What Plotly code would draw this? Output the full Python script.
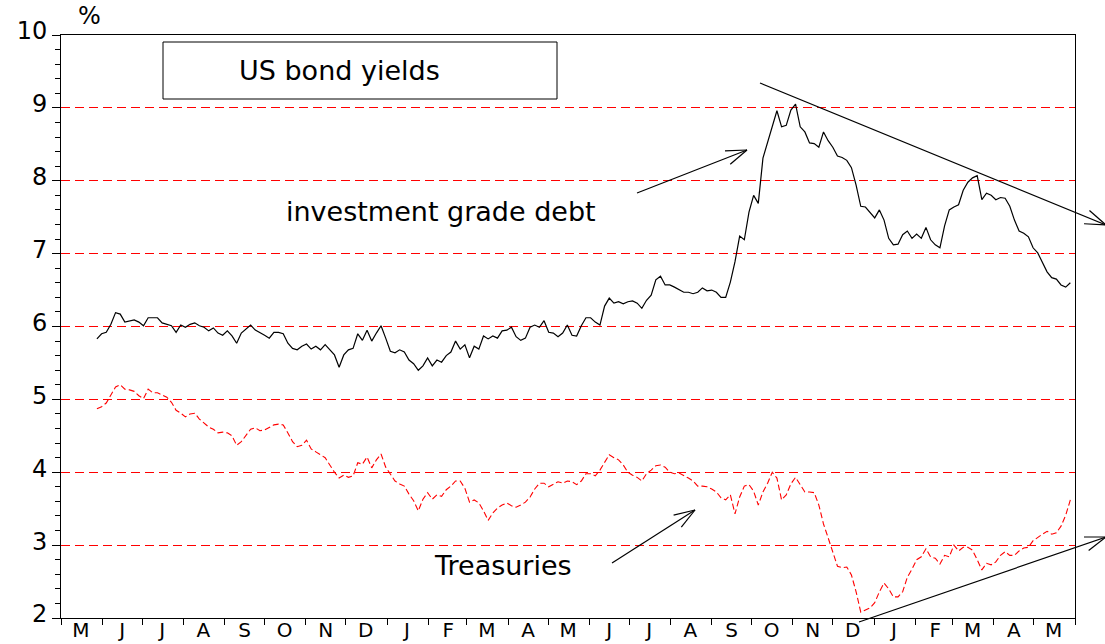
import math
import pandas as pd
import plotly.graph_objects as go

# ---------------- data ----------------
dates = pd.date_range("2007-05-28", periods=210, freq="84h")

investment_grade = [
    5.83, 5.90, 5.92, 6.03, 6.19, 6.17, 6.06, 6.08, 6.09, 6.06,
    6.01, 6.12, 6.12, 6.12, 6.05, 6.03, 6.01, 5.92, 6.02, 5.99,
    6.03, 6.05, 6.01, 5.99, 5.94, 5.98, 5.91, 5.88, 5.94, 5.87,
    5.77, 5.91, 5.97, 6.02, 5.95, 5.92, 5.88, 5.84, 5.92, 5.92,
    5.90, 5.77, 5.70, 5.68, 5.73, 5.76, 5.69, 5.73, 5.68, 5.75,
    5.68, 5.61, 5.44, 5.61, 5.68, 5.70, 5.90, 5.81, 5.95, 5.80,
    5.91, 6.01, 5.84, 5.66, 5.64, 5.68, 5.65, 5.54, 5.49, 5.40,
    5.46, 5.57, 5.46, 5.54, 5.51, 5.60, 5.65, 5.80, 5.69, 5.75,
    5.57, 5.73, 5.69, 5.87, 5.83, 5.87, 5.84, 5.94, 5.95, 5.99,
    5.86, 5.81, 5.84, 5.99, 6.02, 5.99, 6.08, 5.92, 5.91, 5.86,
    5.91, 6.02, 5.88, 5.87, 6.01, 6.12, 6.12, 6.06, 6.02, 6.28,
    6.39, 6.32, 6.34, 6.31, 6.34, 6.35, 6.32, 6.25, 6.36, 6.43,
    6.64, 6.69, 6.57, 6.57, 6.54, 6.51, 6.47, 6.47, 6.45, 6.47,
    6.53, 6.49, 6.50, 6.47, 6.40, 6.40, 6.61, 6.89, 7.24, 7.19,
    7.57, 7.80, 7.69, 8.31, 8.52, 8.74, 8.96, 8.74, 8.76, 8.97,
    9.05, 8.74, 8.67, 8.52, 8.51, 8.46, 8.67, 8.55, 8.46, 8.34,
    8.32, 8.28, 8.18, 7.94, 7.65, 7.64, 7.57, 7.49, 7.60, 7.46,
    7.21, 7.12, 7.13, 7.26, 7.31, 7.21, 7.27, 7.21, 7.36, 7.19,
    7.12, 7.08, 7.38, 7.60, 7.64, 7.67, 7.87, 7.98, 8.04, 8.07,
    7.74, 7.83, 7.80, 7.74, 7.77, 7.76, 7.65, 7.46, 7.31, 7.28,
    7.23, 7.08, 7.01, 6.87, 6.75, 6.67, 6.65, 6.57, 6.54, 6.60,
]

treasuries = [
    4.87, 4.90, 4.95, 5.07, 5.17, 5.20, 5.14, 5.13, 5.11, 5.05,
    5.01, 5.14, 5.09, 5.09, 5.06, 5.03, 4.96, 4.85, 4.81, 4.76,
    4.80, 4.81, 4.73, 4.68, 4.62, 4.59, 4.54, 4.55, 4.54, 4.50,
    4.37, 4.42, 4.50, 4.59, 4.61, 4.57, 4.58, 4.62, 4.65, 4.66,
    4.65, 4.54, 4.42, 4.35, 4.37, 4.44, 4.32, 4.28, 4.24, 4.20,
    4.10, 4.00, 3.92, 3.96, 3.93, 3.95, 4.13, 4.11, 4.21, 4.06,
    4.17, 4.25, 4.07, 3.98, 3.88, 3.84, 3.81, 3.70, 3.61, 3.47,
    3.63, 3.72, 3.63, 3.69, 3.67, 3.76, 3.81, 3.88, 3.88, 3.78,
    3.59, 3.62, 3.58, 3.47, 3.34, 3.44, 3.51, 3.55, 3.58, 3.54,
    3.52, 3.55, 3.59, 3.66, 3.77, 3.85, 3.85, 3.80, 3.83, 3.87,
    3.85, 3.88, 3.87, 3.83, 3.88, 3.98, 3.98, 3.95, 4.03, 4.14,
    4.24, 4.20, 4.17, 4.10, 4.00, 3.96, 3.93, 3.88, 3.98, 4.03,
    4.09, 4.10, 4.07, 4.00, 3.98, 3.99, 3.96, 3.92, 3.88, 3.81,
    3.81, 3.80, 3.77, 3.73, 3.65, 3.62, 3.69, 3.43, 3.66, 3.81,
    3.83, 3.74, 3.55, 3.73, 3.85, 4.00, 3.92, 3.62, 3.69, 3.84,
    3.93, 3.83, 3.73, 3.73, 3.72, 3.55, 3.29, 3.10, 2.92, 2.71,
    2.69, 2.70, 2.59, 2.36, 2.08, 2.11, 2.14, 2.21, 2.36, 2.48,
    2.40, 2.29, 2.29, 2.36, 2.56, 2.67, 2.80, 2.84, 2.95, 2.84,
    2.82, 2.74, 2.86, 2.84, 3.00, 2.92, 2.97, 2.97, 2.93, 2.80,
    2.66, 2.75, 2.73, 2.77, 2.86, 2.91, 2.86, 2.86, 2.92, 2.96,
    2.97, 3.06, 3.11, 3.15, 3.19, 3.15, 3.17, 3.26, 3.41, 3.62,
]

month_letters = ["M", "J", "J", "A", "S", "O", "N", "D", "J", "F", "M", "A",
                 "M", "J", "J", "A", "S", "O", "N", "D", "J", "F", "M", "A", "M"]
y_ticks = [2, 3, 4, 5, 6, 7, 8, 9, 10]

month_starts = pd.date_range("2007-05-01", "2009-06-01", freq="MS")
month_mids = month_starts[:-1] + pd.Timedelta(days=15)
y_minor = [round(v + k * 0.2, 1) for v in y_ticks[:-1] for k in range(1, 5)]

# ---------------- layout geometry ----------------
W, H = 1105, 644
L, R, T, B = 61, 30, 35, 26
PW, PH = W - L - R, H - T - B
FONT = "DejaVu Sans"


def paper(px, py):
    return (px - L) / PW, (H - B - py) / PH


fig = go.Figure()
fig.add_trace(go.Scatter(x=dates, y=investment_grade, mode="lines",
                         line=dict(color="black", width=1.2),
                         name="investment grade debt"))
fig.add_trace(go.Scatter(x=dates, y=treasuries, mode="lines",
                         line=dict(color="red", width=1.1, dash="6px,3px"),
                         name="Treasuries"))

fig.update_layout(
    width=W, height=H,
    margin=dict(l=L, r=R, t=T, b=B, autoexpand=False),
    paper_bgcolor="white", plot_bgcolor="white",
    showlegend=False,
    font=dict(family=FONT, size=24, color="black"),
)

fig.update_xaxes(
    range=[month_starts[0], month_starts[-1]],
    automargin=False,
    tickmode="array", tickvals=month_mids, ticktext=month_letters,
    ticks="", showgrid=False, zeroline=False,
    showline=True, linecolor="black", linewidth=1, mirror=True,
    tickfont=dict(family=FONT, size=20, color="black"),
    ticklabelstandoff=-6,
    minor=dict(tickmode="array", tickvals=month_starts, ticks="outside",
               ticklen=6, tickwidth=1, tickcolor="black", showgrid=False),
)
fig.update_yaxes(
    range=[2, 10],
    automargin=False,
    tickmode="array", tickvals=y_ticks,
    ticks="outside", ticklen=8, tickwidth=1, tickcolor="black",
    showgrid=True, gridcolor="red", griddash="9px,5px", gridwidth=1,
    zeroline=False,
    showline=True, linecolor="black", linewidth=1, mirror=True,
    tickfont=dict(family=FONT, size=24, color="black"),
    ticklabelshift=-4,
    minor=dict(tickmode="array", tickvals=y_minor, ticks="outside",
               ticklen=5, tickwidth=1, tickcolor="black", showgrid=False,
               gridcolor="red"),
)

shapes = []
# title box
bx0, by0 = paper(163, 99)
bx1, by1 = paper(557, 42)
shapes.append(dict(type="rect", xref="paper", yref="paper",
                   x0=bx0, y0=by0, x1=bx1, y1=by1,
                   line=dict(color="black", width=1), fillcolor="rgba(0,0,0,0)"))


def arrow(tail, tip, arm=22, half_angle=19):
    out = []
    tx, ty = paper(*tail)
    hx, hy = paper(*tip)
    out.append(dict(type="line", xref="paper", yref="paper",
                    x0=tx, y0=ty, x1=hx, y1=hy,
                    line=dict(color="black", width=1.2)))
    ang = math.atan2(tail[1] - tip[1], tail[0] - tip[0])
    for s in (-1, 1):
        a = ang + s * math.radians(half_angle)
        ex, ey = tip[0] + arm * math.cos(a), tip[1] + arm * math.sin(a)
        px0, py0 = paper(ex, ey)
        out.append(dict(type="line", xref="paper", yref="paper",
                        x0=px0, y0=py0, x1=hx, y1=hy,
                        line=dict(color="black", width=1.2)))
    return out


shapes += arrow((637, 193), (747, 150))
shapes += arrow((612, 563), (695, 510))
shapes += arrow((760, 83), (1106, 225))
shapes += arrow((859, 622), (1106, 537))
fig.update_layout(shapes=shapes)

annotations = []
ax_, ay_ = paper(89, 16)
annotations.append(dict(text="%", x=ax_, y=ay_, xref="paper", yref="paper",
                        showarrow=False, xanchor="center", yanchor="middle",
                        font=dict(family=FONT, size=24, color="black")))
tx_, ty_ = paper(339, 71)
annotations.append(dict(text="US bond yields", x=tx_, y=ty_, xref="paper", yref="paper",
                        showarrow=False, xanchor="center", yanchor="middle",
                        font=dict(family=FONT, size=27, color="black")))
ix_, iy_ = paper(441, 212)
annotations.append(dict(text="investment grade debt", x=ix_, y=iy_, xref="paper", yref="paper",
                        showarrow=False, xanchor="center", yanchor="middle",
                        font=dict(family=FONT, size=27, color="black")))
rx_, ry_ = paper(503, 565)
annotations.append(dict(text="Treasuries", x=rx_, y=ry_, xref="paper", yref="paper",
                        showarrow=False, xanchor="center", yanchor="middle",
                        font=dict(family=FONT, size=27, color="black")))
fig.update_layout(annotations=annotations)

fig.write_html("out.html")
